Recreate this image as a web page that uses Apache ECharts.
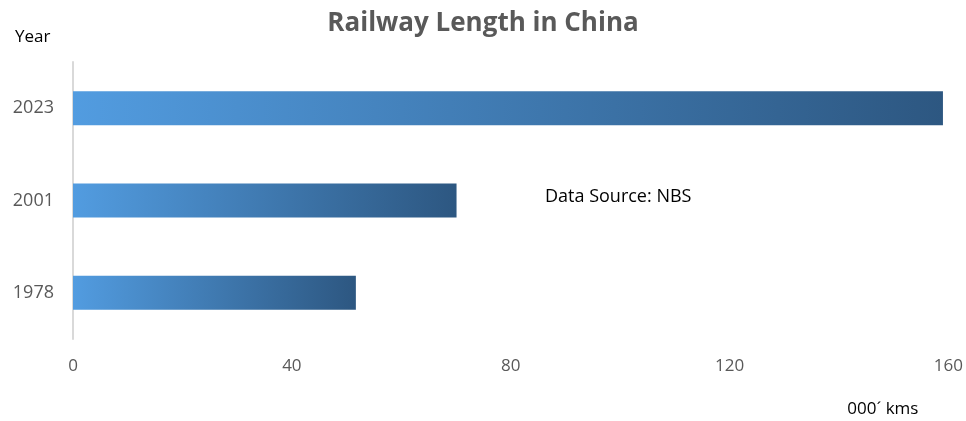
<!DOCTYPE html>
<html><head><meta charset="utf-8">
<script src="https://cdn.jsdelivr.net/npm/echarts@6/dist/echarts.min.js"></script>
<style>html,body{margin:0;padding:0;background:#fff}#c{width:966px;height:421px}</style>
</head><body><div id="c"></div>
<script>
const categories = ['1978', '2001', '2023'];
const values = [51.7, 70.1, 159];
const xTicks = [0, 40, 80, 120, 160];

const chart = echarts.init(document.getElementById('c'));
const font = 'Open Sans, Noto Sans, sans-serif';
chart.setOption({
  animation: false,
  title: {
    text: 'Railway Length in China', left: 'center', top: 6,
    textStyle: { fontFamily: font, fontSize: 26, fontWeight: 'bold', color: '#595959' }
  },
  grid: { left: 73, right: 16, top: 62, bottom: 82, containLabel: false },
  xAxis: {
    type: 'value', min: 0, max: 160, interval: 40,
    axisLine: { show: false }, axisTick: { show: false }, splitLine: { show: false },
    axisLabel: { margin: 19, fontFamily: font, fontSize: 17, color: '#595959',
      formatter: v => xTicks.includes(v) ? String(v) : '' },
    name: '000´ kms', nameLocation: 'end', nameGap: 0,
    nameTextStyle: { fontFamily: font, fontSize: 17, color: '#000', align: 'right', verticalAlign: 'top', padding: [62, 30, 0, 0] }
  },
  yAxis: {
    type: 'category', data: categories,
    axisLine: { show: true, lineStyle: { color: '#d9d9d9', width: 2 } },
    axisTick: { show: false },
    axisLabel: { margin: 19, fontFamily: font, fontSize: 18, color: '#595959' },
    name: 'Year', nameLocation: 'end', nameGap: 16,
    nameTextStyle: { fontFamily: font, fontSize: 17, color: '#000', align: 'left', padding: [0, 0, 0, -58] }
  },
  graphic: [{
    type: 'text', left: 545, top: 188,
    style: { text: 'Data Source: NBS', fontFamily: font, fontSize: 18, fill: '#000' }
  }],
  series: [{
    type: 'bar', data: values, barWidth: 34,
    itemStyle: {
      color: new echarts.graphic.LinearGradient(0, 0, 1, 0, [
        { offset: 0, color: '#529ce0' }, { offset: 1, color: '#2d5781' }
      ])
    }
  }]
});
</script></body></html>
